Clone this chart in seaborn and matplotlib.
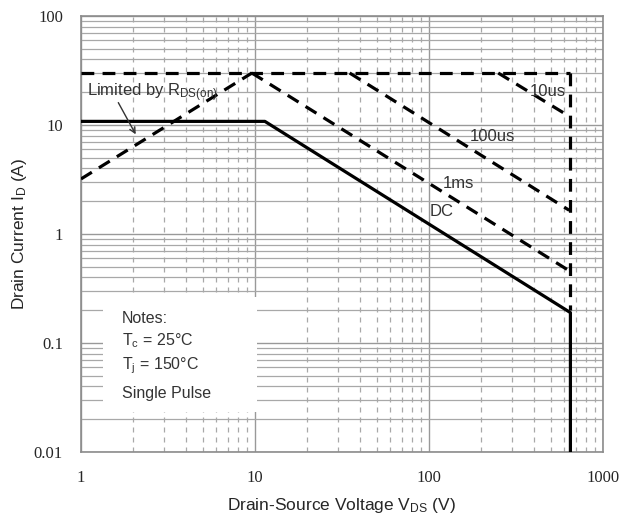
import numpy as np
import pandas as pd
import matplotlib
matplotlib.use("Agg")
import matplotlib.pyplot as plt
import seaborn as sns
from matplotlib.patches import Rectangle
from matplotlib.ticker import FixedLocator, FixedFormatter, NullFormatter

sns.set_style("white")
plt.rcParams['font.family'] = ['Liberation Sans', 'DejaVu Sans']
plt.rcParams['mathtext.default'] = 'regular'

# safe operating area curves (V, A)
rds_v = [1, 9.6]
rds_i = [3.2, 30]
top_v = [1, 650]
top_i = [30, 30]
us10_v = [250, 600]
us10_i = [30, 12.8]
us100_v = [35, 640]
us100_i = [30, 1.65]
ms1_v = [9.6, 640]
ms1_i = [30, 0.46]
edge_v = [650, 650]
edge_i = [30, 0.2]
dc_v = [1, 11.4, 650, 650]
dc_i = [10.8, 10.8, 0.19, 0.01]

x_ticks = [1, 10, 100, 1000]
x_labels = ['1', '10', '100', '1000']
y_ticks = [0.01, 0.1, 1, 10, 100]
y_labels = ['0.01', '0.1', '1', '10', '100']

fig = plt.figure(figsize=(6.22, 5.27), dpi=100)
ax = fig.add_axes([0.1302, 0.1423, 0.8392, 0.8273])

dash = (0, (4, 2.6))
for v, i in [(rds_v, rds_i), (top_v, top_i), (us10_v, us10_i), (us100_v, us100_i),
             (ms1_v, ms1_i), (edge_v, edge_i)]:
    sns.lineplot(x=v, y=i, ax=ax, color='black', lw=2.3, linestyle=dash,
                 estimator=None, sort=False, zorder=4)
sns.lineplot(x=dc_v, y=dc_i, ax=ax, color='black', lw=2.3, estimator=None,
             sort=False, zorder=5)

ax.set_xscale('log')
ax.set_yscale('log')
ax.set_xlim(1, 1000)
ax.set_ylim(0.01, 100)

ax.xaxis.set_major_locator(FixedLocator(x_ticks))
ax.xaxis.set_major_formatter(FixedFormatter(x_labels))
ax.yaxis.set_major_locator(FixedLocator(y_ticks))
ax.yaxis.set_major_formatter(FixedFormatter(y_labels))
ax.xaxis.set_minor_formatter(NullFormatter())
ax.yaxis.set_minor_formatter(NullFormatter())

gcol = '#a8a8a8'
ax.grid(True, which='major', axis='both', color='#999999', lw=1.0)
ax.grid(True, which='minor', axis='y', color=gcol, lw=0.9)
ax.grid(True, which='minor', axis='x', color=gcol, lw=0.9, linestyle=(0, (4, 4)))
ax.set_axisbelow(True)

for s in ax.spines.values():
    s.set_color('#8c8c8c')
    s.set_linewidth(1.2)

ax.tick_params(axis='both', which='major', direction='out', length=4, width=1,
               color='#8c8c8c', pad=9, labelsize=12)
ax.tick_params(axis='both', which='minor', length=0)
for lab in ax.get_xticklabels() + ax.get_yticklabels():
    lab.set_fontfamily(['Liberation Serif', 'DejaVu Serif'])

ax.set_xlabel(r'Drain-Source Voltage V$_{DS}$ (V)', fontsize=12.5)
ax.set_ylabel(r'Drain Current I$_{D}$ (A)', fontsize=12.5)
ax.xaxis.set_label_coords(0.5, -0.1)
ax.yaxis.set_label_coords(-0.1, 0.5)

narrow = ['Liberation Sans Narrow', 'Liberation Sans', 'DejaVu Sans']
tcol = '#333333'
ax.text(380, 20.5, '10us', family=narrow, fontsize=12, color=tcol, va='center', zorder=6)
ax.text(172, 7.8, '100us', family=narrow, fontsize=12, color=tcol, va='center', zorder=6)
ax.text(120, 2.9, '1ms', family=narrow, fontsize=12, color=tcol, va='center', zorder=6)
ax.text(101, 1.6, 'DC', family=narrow, fontsize=12, color=tcol, va='center', zorder=6)
ax.text(1.08, 20, r'Limited by R$_{DS(on)}$', family=narrow, fontsize=12,
        color=tcol, va='center', zorder=6)
ax.annotate('', xy=(2.1, 7.8), xytext=(1.61, 16.9),
            arrowprops=dict(arrowstyle='->', color='#333333', lw=1), zorder=6)

# notes box over the grid
ax.add_patch(Rectangle((0.042, 0.092), 0.295, 0.264, transform=ax.transAxes,
                       facecolor='white', edgecolor='none', zorder=2))
notes = ['Notes:', r'T$_{c}$ = 25°C', r'T$_{j}$ = 150°C', 'Single Pulse']
note_y = [0.307, 0.255, 0.198, 0.135]
for t, yy in zip(notes, note_y):
    ax.text(0.079, yy, t, transform=ax.transAxes, family=narrow, fontsize=11.5,
            color=tcol, va='center', zorder=3)

fig.savefig('out.png', dpi=100)
